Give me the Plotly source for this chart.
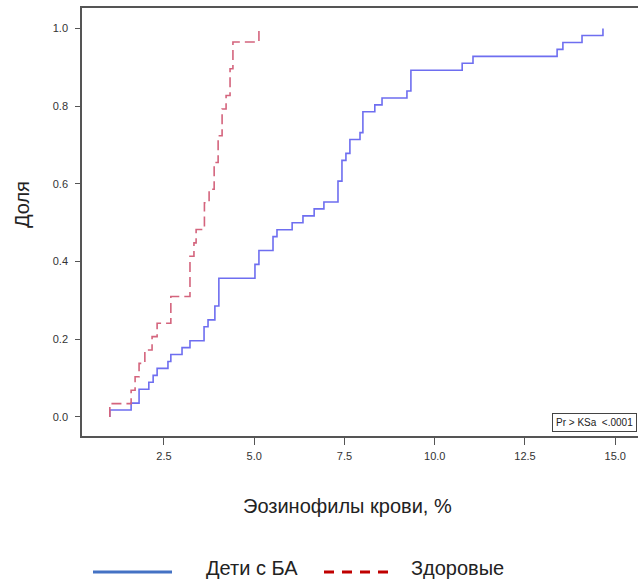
import numpy as np
import plotly.graph_objects as go

# Blood eosinophils (%), distinct observed values and number of observations at each
asthma_values = [1.00, 1.59, 1.81, 2.08, 2.20, 2.31, 2.61, 2.69, 3.00, 3.22,
                 3.61, 3.72, 3.91, 4.02, 5.02, 5.13, 5.52, 5.63, 6.05, 6.35,
                 6.66, 6.93, 7.32, 7.43, 7.54, 7.65, 7.93, 8.01, 8.34, 8.54,
                 9.23, 9.34, 10.76, 11.06, 13.39, 13.55, 14.08, 14.66]
asthma_counts = [1, 1, 2, 1, 1, 1, 1, 1, 1, 1,
                 2, 1, 2, 4, 2, 2, 2, 1, 1, 1,
                 1, 1, 3, 3, 1, 2, 1, 3, 1, 1,
                 1, 3, 1, 1, 1, 1, 1, 1]

healthy_values = [1.00, 1.59, 1.70, 1.81, 1.97, 2.17, 2.31, 2.69, 3.22, 3.33,
                  3.39, 3.62, 3.75, 3.89, 4.00, 4.11, 4.22, 4.33, 4.41, 5.13]
healthy_counts = [1, 1, 1, 1, 1, 1, 1, 2, 3, 1,
                  1, 2, 1, 2, 2, 2, 1, 2, 2, 1]

x_ticks = [2.5, 5.0, 7.5, 10.0, 12.5, 15.0]
y_ticks = [0.0, 0.2, 0.4, 0.6, 0.8, 1.0]

series_names = ["Дети с БА", "Здоровые"]
x_title = "Эозинофилы крови, %"
y_title = "Доля"
ks_text = "Pr > KSa  <.0001"

W, H = 638, 583
L, R, T, B = 82, 0, 8, 147
PW, PH = W - L - R, H - T - B
X0 = 0.229
X1 = X0 + PW / 36.1
Y0, Y1 = -0.049, 1.053

FONT = "Liberation Sans Narrow, Arial Narrow, Liberation Sans, Arial, sans-serif"


def px(x):
    return (x - L) / PW


def py(y):
    return (H - B - y) / PH


def ecdf(values, counts):
    cum = np.cumsum(counts) / np.sum(counts)
    xs = [values[0]] + list(values)
    ys = [0.0] + list(cum)
    return xs, ys


fig = go.Figure()

ax, ay = ecdf(asthma_values, asthma_counts)
fig.add_trace(go.Scatter(x=ax, y=ay, mode="lines", line_shape="hv",
                         line=dict(color="rgb(110,110,240)", width=1.6),
                         name=series_names[0], showlegend=False))
hx, hy = ecdf(healthy_values, healthy_counts)
fig.add_trace(go.Scatter(x=hx, y=hy, mode="lines", line_shape="hv",
                         line=dict(color="rgb(212,100,125)", width=1.6, dash="10px,5px"),
                         name=series_names[1], showlegend=False))

tick_font = dict(family=FONT, size=11, color="#333")
fig.update_xaxes(range=[X0, X1], tickvals=x_ticks, tickformat=".1f", mirror=True,
                 showline=True, linecolor="#555", linewidth=1.5, ticks="outside",
                 ticklen=7, tickwidth=1, tickcolor="#555", showgrid=False, zeroline=False,
                 tickfont=tick_font, ticklabelstandoff=2)
fig.update_yaxes(range=[Y0, Y1], tickvals=y_ticks, tickformat=".1f", mirror=False,
                 showline=True, linecolor="#555", linewidth=1.5, ticks="outside",
                 ticklen=5, tickwidth=1, tickcolor="#555", showgrid=False, zeroline=False,
                 tickfont=tick_font, ticklabelstandoff=5)

title_font = dict(family=FONT, size=20, color="#222")
annotations = [
    dict(text=x_title, x=px(347), y=py(506), xref="paper", yref="paper",
         xanchor="center", yanchor="middle", showarrow=False, font=title_font),
    dict(text=y_title, x=px(22), y=py(205), xref="paper", yref="paper", textangle=-90,
         xanchor="center", yanchor="middle", showarrow=False, font=title_font),
    dict(text=ks_text, x=px(637), y=py(432), xref="paper", yref="paper",
         xanchor="right", yanchor="bottom", showarrow=False,
         bordercolor="#444", borderwidth=1, borderpad=3, bgcolor="white",
         font=dict(family=FONT, size=10, color="#222")),
    dict(text=series_names[0], x=px(204), y=py(568), xref="paper", yref="paper",
         xanchor="left", yanchor="middle", showarrow=False, font=title_font),
    dict(text=series_names[1], x=px(409), y=py(568), xref="paper", yref="paper",
         xanchor="left", yanchor="middle", showarrow=False, font=title_font),
]

shapes = [
    dict(type="line", xref="paper", yref="paper", x0=px(93), x1=px(172), y0=py(572), y1=py(572),
         line=dict(color="#4472C4", width=3)),
    dict(type="line", xref="paper", yref="paper", x0=px(324), x1=px(389), y0=py(572), y1=py(572),
         line=dict(color="#C00000", width=3, dash="10px,8px")),
]

fig.update_layout(width=W, height=H, margin=dict(l=L, r=R, t=T, b=B),
                  plot_bgcolor="white", paper_bgcolor="white",
                  annotations=annotations, shapes=shapes, showlegend=False)

fig.write_html("out.html")
